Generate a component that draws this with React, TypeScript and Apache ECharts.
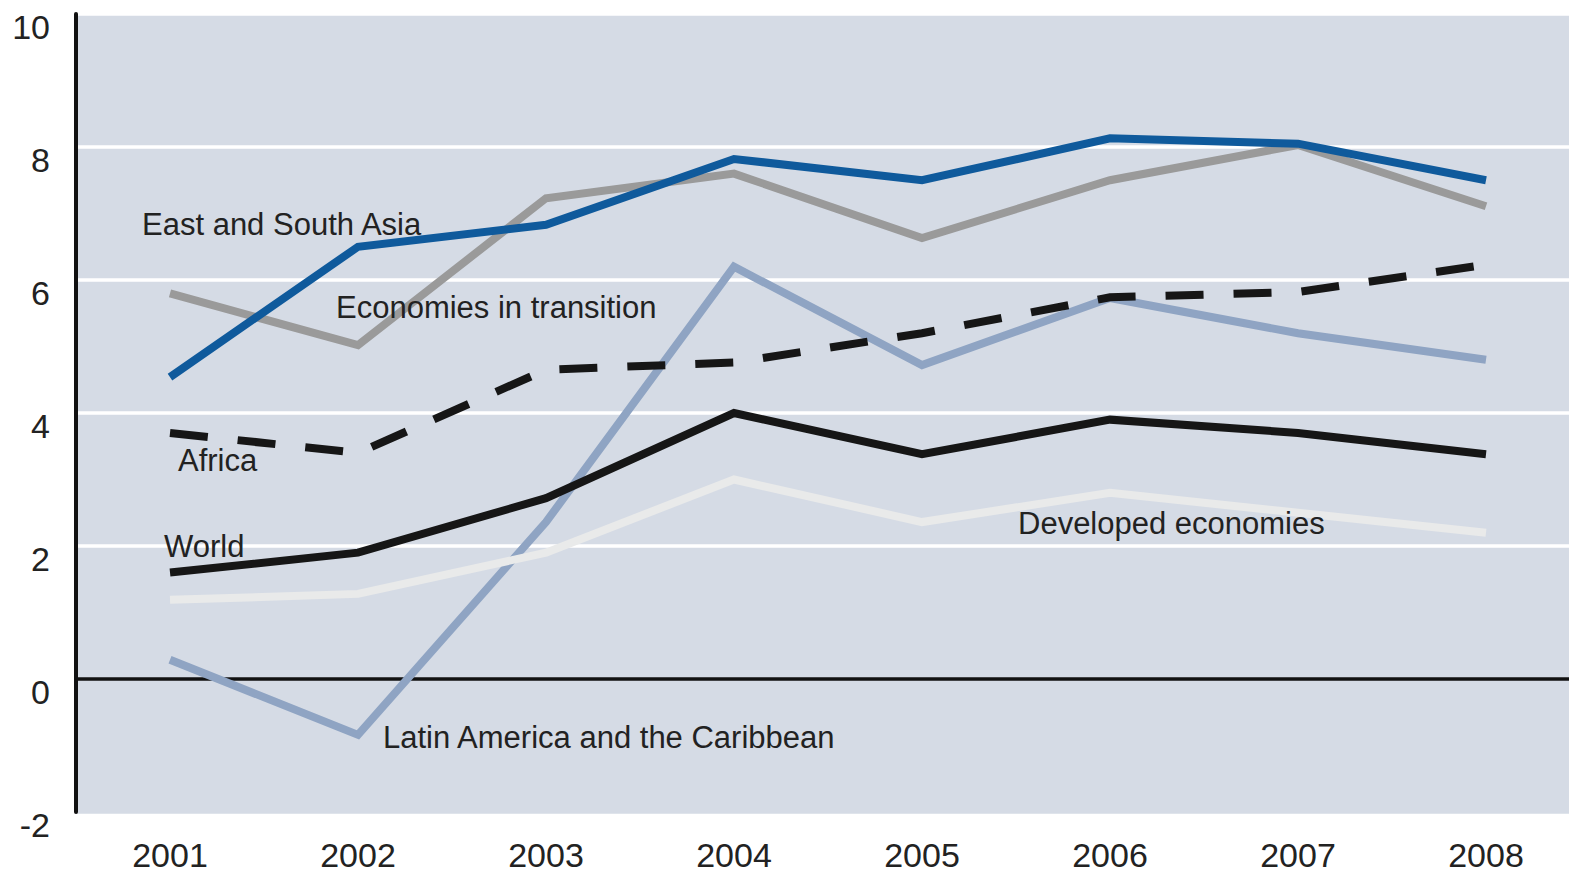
import React, { useEffect, useRef } from "react";
import * as echarts from "echarts";

const years = ["2001", "2002", "2003", "2004", "2005", "2006", "2007", "2008"];
const yTicks = [-2, 0, 2, 4, 6, 8, 10];

const eastSouthAsia = [4.54, 6.5, 6.83, 7.82, 7.5, 8.13, 8.05, 7.5];
const transition = [5.8, 5.02, 7.23, 7.6, 6.63, 7.5, 8.03, 7.11];
const africa = [3.7, 3.4, 4.65, 4.76, 5.2, 5.74, 5.82, 6.23];
const latinAmerica = [0.29, -0.84, 2.36, 6.2, 4.72, 5.73, 5.2, 4.8];
const world = [1.6, 1.9, 2.72, 4.0, 3.38, 3.9, 3.7, 3.38];
const developed = [1.19, 1.28, 1.9, 3.0, 2.36, 2.8, 2.5, 2.2];

const labels = [
  { text: "East and South Asia", x: 142, y: 224 },
  { text: "Economies in transition", x: 336, y: 307 },
  { text: "Africa", x: 178, y: 460 },
  { text: "World", x: 164, y: 546 },
  { text: "Developed economies", x: 1018, y: 523 },
  { text: "Latin America and the Caribbean", x: 383, y: 737 },
];

const FONT = "Liberation Sans, Arial, Helvetica, sans-serif";

export default function App() {
  const ref = useRef<HTMLDivElement>(null);
  useEffect(() => {
    if (!ref.current) return;
    const chart = echarts.init(ref.current, undefined, { renderer: "svg" });
    const line = (name: string, data: number[], color: string, extra: any = {}) => ({
      name,
      type: "line",
      data,
      symbol: "none",
      lineStyle: { color, width: 8, cap: "butt", join: "miter", ...extra },
      z: 2,
    });
    chart.setOption({
      animation: false,
      backgroundColor: "#ffffff",
      grid: {
        left: 76,
        width: 1504,
        top: 14,
        bottom: 61,
        show: true,
        backgroundColor: "#d5dbe5",
        borderWidth: 0,
        containLabel: false,
        outerBoundsMode: "none",
      },
      xAxis: {
        type: "category",
        data: years,
        boundaryGap: true,
        axisLine: { show: false },
        axisTick: { show: false },
        axisLabel: {
          color: "#222",
          fontSize: 34,
          fontFamily: FONT,
          margin: 26,
        },
        splitLine: { show: false },
      },
      yAxis: {
        type: "value",
        min: -2,
        max: 10,
        interval: 2,
        axisLine: { show: true, lineStyle: { color: "#111", width: 4 } },
        axisTick: { show: false },
        axisLabel: {
          color: "#222",
          fontSize: 34,
          fontFamily: FONT,
          margin: 26,
          verticalAlign: "top",
          lineHeight: 26,
          formatter: (v: number) => (yTicks.includes(v) ? String(v) : ""),
        },
        splitLine: {
          show: true,
          lineStyle: {
            color: ["#d5dbe5", "#111111", "#ffffff", "#ffffff", "#ffffff", "#ffffff", "#ffffff"],
            width: 3.5,
          },
        },
      },
      series: [
        line("Latin America and the Caribbean", latinAmerica, "#8fa4c3"),
        line("Developed economies", developed, "#e9eaea"),
        line("World", world, "#161616"),
        line("Africa", africa, "#161616", { type: [38, 30], width: 8 }),
        line("Economies in transition", transition, "#9a9a9a"),
        line("East and South Asia", eastSouthAsia, "#0f5a9c"),
      ],
      graphic: labels.map((l) => ({
        type: "text",
        x: l.x,
        y: l.y,
        z: 10,
        style: {
          text: l.text,
          fill: "#222",
          font: `31px ${FONT}`,
          verticalAlign: "middle",
          align: "left",
        },
      })),
    });
    return () => chart.dispose();
  }, []);
  return <div ref={ref} style={{ width: 1569, height: 873, position: "absolute", left: 0, top: 0 }} />;
}
